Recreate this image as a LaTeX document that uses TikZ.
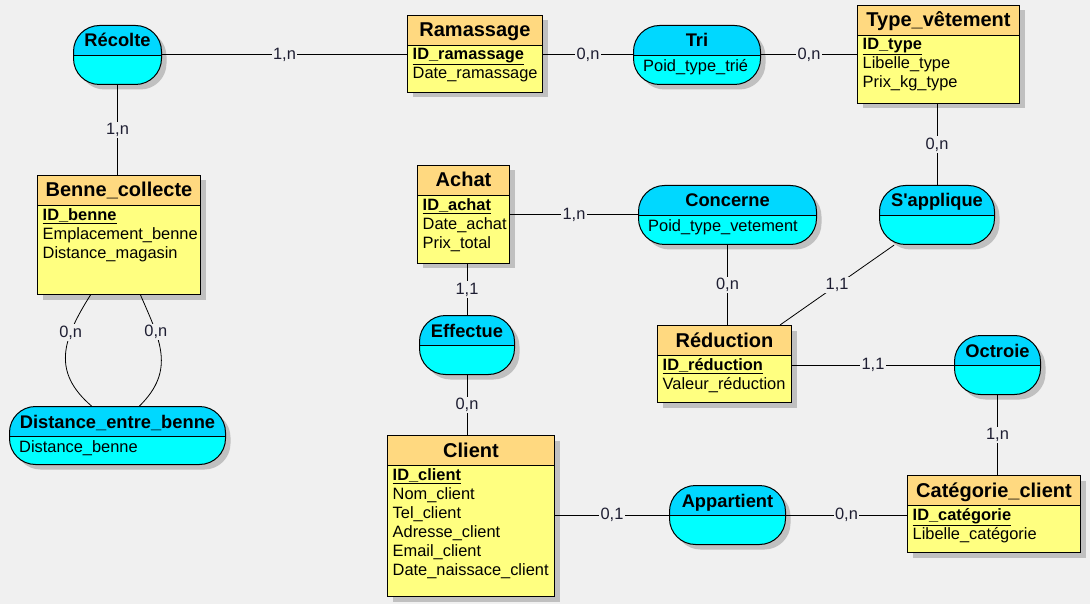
\documentclass[tikz,border=0pt]{standalone}
\usepackage{fontspec}
\setmainfont{Liberation Sans}
\usetikzlibrary{shadows}
\definecolor{fond}{RGB}{240,240,240}
\definecolor{entete}{RGB}{255,217,128}
\definecolor{corps}{RGB}{255,255,128}
\definecolor{assoc}{RGB}{0,255,255}
\definecolor{assocentete}{RGB}{0,216,255}
\definecolor{ombre}{RGB}{192,192,192}
\definecolor{cardcol}{RGB}{30,30,50}

\begin{document}
\begin{tikzpicture}[x=1pt, y=-1pt,
  bandeau/.style={path picture={
    \fill[#1, sharp corners] (path picture bounding box.north west) rectangle ([yshift=-30pt]path picture bounding box.north east);
    \draw[line width=1pt, sharp corners] ([yshift=-30pt]path picture bounding box.north west) -- ([yshift=-30pt]path picture bounding box.north east);}},
  ombrage/.style={drop shadow={shadow xshift=5pt, shadow yshift=-5pt, fill=ombre, opacity=1}},
  entite/.style={draw, line width=1pt, fill=corps, bandeau=entete, ombrage, anchor=north west, inner sep=0pt},
  relation/.style={draw, line width=1pt, fill=assoc, bandeau=assocentete, ombrage, rounded corners=26pt, anchor=north west, minimum height=59pt, inner sep=0pt},
  titre/.style={anchor=base, inner sep=0pt, font=\fontsize{20}{24}\selectfont\bfseries},
  titrerel/.style={anchor=base, inner sep=0pt, font=\fontsize{18.3}{22}\selectfont\bfseries},
  attr/.style={anchor=north west, inner sep=0pt, align=left, font=\fontsize{16.4}{19}\selectfont, execute at begin node=\strut},
  card/.style={fill=fond, inner sep=1.5pt, text=cardcol, font=\fontsize{16.4}{19}\selectfont},
  lien/.style={line width=1pt}]

\fill[fond] (0,0) rectangle (1090,604);

% entites
\node[entite, minimum width=163pt, minimum height=119pt] (benne) at (37,175) {};
\node[titre] (benneT) at ([yshift=-22pt]benne.north) {Benne\_collecte};
\node[attr] (benneA) at ([xshift=5.5pt,yshift=-33pt]benne.north west) {\underline{\textbf{ID\_benne}}\\Emplacement\_benne\\Distance\_magasin};

\node[entite, minimum width=135pt, minimum height=77pt] (ramassage) at (407,15) {};
\node[titre] (ramassageT) at ([yshift=-22pt]ramassage.north) {Ramassage};
\node[attr] (ramassageA) at ([xshift=5.5pt,yshift=-33pt]ramassage.north west) {\underline{\textbf{ID\_ramassage}}\\Date\_ramassage};

\node[entite, minimum width=162pt, minimum height=98pt] (type) at (857,5) {};
\node[titre] (typeT) at ([yshift=-22pt]type.north) {Type\_vêtement};
\node[attr] (typeA) at ([xshift=5.5pt,yshift=-33pt]type.north west) {\underline{\textbf{ID\_type}}\\Libelle\_type\\Prix\_kg\_type};

\node[entite, minimum width=92pt, minimum height=98pt] (achat) at (417,165) {};
\node[titre] (achatT) at ([yshift=-22pt]achat.north) {Achat};
\node[attr] (achatA) at ([xshift=5.5pt,yshift=-33pt]achat.north west) {\underline{\textbf{ID\_achat}}\\Date\_achat\\Prix\_total};

\node[entite, minimum width=134pt, minimum height=77pt] (reduction) at (657,325) {};
\node[titre] (reductionT) at ([yshift=-22pt]reduction.north) {Réduction};
\node[attr] (reductionA) at ([xshift=5.5pt,yshift=-33pt]reduction.north west) {\underline{\textbf{ID\_réduction}}\\Valeur\_réduction};

\node[entite, minimum width=167pt, minimum height=161pt] (client) at (387,435) {};
\node[titre] (clientT) at ([yshift=-22pt]client.north) {Client};
\node[attr] (clientA) at ([xshift=5.5pt,yshift=-33pt]client.north west) {\underline{\textbf{ID\_client}}\\Nom\_client\\Tel\_client\\Adresse\_client\\Email\_client\\Date\_naissace\_client};

\node[entite, minimum width=173pt, minimum height=77pt] (categorie) at (907,475) {};
\node[titre] (categorieT) at ([yshift=-22pt]categorie.north) {Catégorie\_client};
\node[attr] (categorieA) at ([xshift=5.5pt,yshift=-33pt]categorie.north west) {\underline{\textbf{ID\_catégorie}}\\Libelle\_catégorie};

% associations
\node[relation, minimum width=88pt] (recolte) at (73,25) {};
\node[titrerel] (recolteT) at ([yshift=-22pt]recolte.north) {Récolte};

\node[relation, minimum width=127pt] (tri) at (633,25) {};
\node[titrerel] (triT) at ([yshift=-22pt]tri.north) {Tri};
\node[attr] (triA) at ([xshift=10pt,yshift=-33pt]tri.north west) {Poid\_type\_trié};

\node[relation, minimum width=178pt] (concerne) at (638,185) {};
\node[titrerel] (concerneT) at ([yshift=-22pt]concerne.north) {Concerne};
\node[attr] (concerneA) at ([xshift=10pt,yshift=-33pt]concerne.north west) {Poid\_type\_vetement};

\node[relation, minimum width=115pt] (applique) at (879,185) {};
\node[titrerel] (appliqueT) at ([yshift=-22pt]applique.north) {S\textquotesingle applique};

\node[relation, minimum width=95pt] (effectue) at (419,315) {};
\node[titrerel] (effectueT) at ([yshift=-22pt]effectue.north) {Effectue};

\node[relation, minimum width=86pt] (octroie) at (954,335) {};
\node[titrerel] (octroieT) at ([yshift=-22pt]octroie.north) {Octroie};

\node[relation, minimum width=216pt, minimum height=58pt] (distance) at (9,406) {};
\node[titrerel] (distanceT) at ([yshift=-22pt]distance.north) {Distance\_entre\_benne};
\node[attr] (distanceA) at ([xshift=10pt,yshift=-33pt]distance.north west) {Distance\_benne};

\node[relation, minimum width=116pt] (appartient) at (669,485) {};
\node[titrerel] (appartientT) at ([yshift=-22pt]appartient.north) {Appartient};

% liens
\draw[lien] (recolte.south) -- node[card] (c1) {1,n} (recolte.south |- benne.north);
\draw[lien] (recolte.east) -- node[card] (c2) {1,n} (recolte.east -| ramassage.west);
\draw[lien] (tri.west -| ramassage.east) -- node[card] (c3) {0,n} (tri.west);
\draw[lien] (tri.east) -- node[card] (c4) {0,n} (tri.east -| type.west);
\draw[lien] (applique.north |- type.south) -- node[card] (c5) {0,n} (applique.north);
\draw[lien] (concerne.west -| achat.east) -- node[card] (c6) {1,n} (concerne.west);
\draw[lien] (effectue.north |- achat.south) -- node[card] (c7) {1,1} (effectue.north);
\draw[lien] (effectue.south) -- node[card] (c8) {0,n} (effectue.south |- client.north);
\draw[lien] (concerne.south) -- node[card] (c9) {0,n} (concerne.south |- reduction.north);
\draw[line width=0.8pt] (applique) -- node[card] (c10) {1,1} (reduction);
\draw[lien] (octroie.west -| reduction.east) -- node[card] (c11) {1,1} (octroie.west);
\draw[lien] (octroie.south) -- node[card] (c12) {1,n} (octroie.south |- categorie.north);
\draw[lien] (appartient.west -| client.east) -- node[card] (c13) {0,1} (appartient.west);
\draw[lien] (appartient.east) -- node[card] (c14) {0,n} (appartient.east -| categorie.west);
\draw[line width=0.8pt] ([xshift=-28.5pt]benne.south) .. controls (62,340) and (52,372) .. ([xshift=-26pt]distance.north) node[card, pos=0.3] (c15) {0,n};
\draw[line width=0.8pt] ([xshift=21.5pt]benne.south) .. controls (160,340) and (176,370) .. ([xshift=22pt]distance.north) node[card, pos=0.3] (c16) {0,n};
\end{tikzpicture}
\end{document}
